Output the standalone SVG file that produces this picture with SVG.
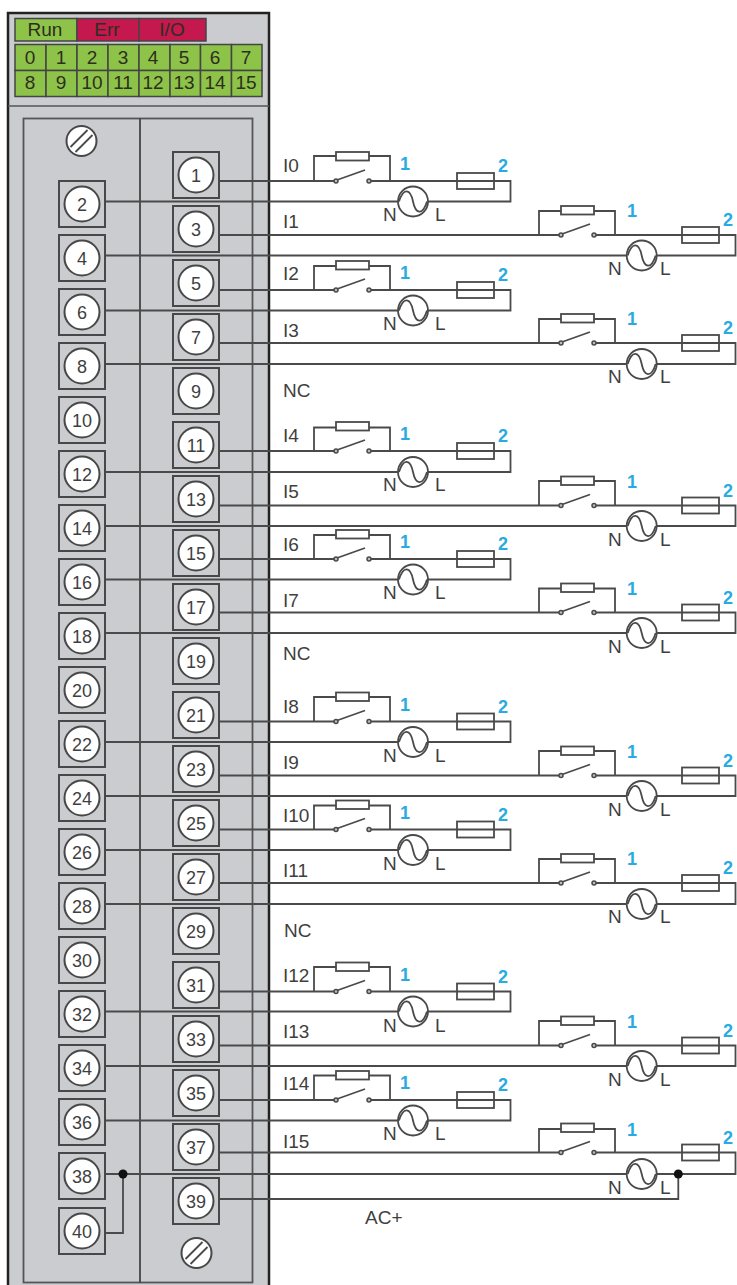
<svg xmlns="http://www.w3.org/2000/svg" xmlns:xlink="http://www.w3.org/1999/xlink" width="737" height="1285" viewBox="0 0 737 1285">
<style>
text{font-family:"Liberation Sans",Arial,sans-serif;fill:#3f3f3f;font-size:19px}
.m{text-anchor:middle;font-size:18px}
.b{fill:#29abe2;font-weight:bold;font-size:18px}
.nl{font-size:19px}
.led{font-size:19px;text-anchor:middle;fill:#2e2e1e}
.g{fill:#8dc348;stroke:#444;stroke-width:1.5}
.r{fill:#c4184f;stroke:#444;stroke-width:1.5}
.w{fill:none;stroke:#4a4a4a;stroke-width:1.8}
.sym{fill:none;stroke:#4a4a4a;stroke-width:1.8}
.wf{fill:#fff;stroke:#4a4a4a;stroke-width:1.8}
.ct{fill:#bbb;stroke:#4a4a4a;stroke-width:1.5}
.ts{fill:#cbccd0;stroke:#484848;stroke-width:2}
.tc{fill:#fff;stroke:#484848;stroke-width:2}
</style>
<defs>
<g id="term"><rect class="ts" x="-23" y="-23" width="46" height="46"/><circle class="tc" r="17.500"/></g>
<g id="ck">
<rect class="wf" x="336" y="-29" width="33" height="8.500"/>
<circle class="ct" cx="336" cy="0" r="2"/><circle class="ct" cx="369" cy="0" r="2"/>
<path class="sym" d="M337 -1L365 -11"/>
<rect class="sym" x="457" y="-8" width="37" height="16"/>
</g>
<g id="src">
<circle class="wf" r="15"/>
<path class="sym" d="M-14 0C-9.500 -14.500 -2.500 -12.500 0 0S9.500 14.500 14 0"/>
</g>
<g id="screw"><circle class="tc" r="15"/><path class="sym" d="M-11 6L6 -11M-6 11L11 -6"/></g>
</defs>
<g id="module">
<rect x="8" y="13" width="261" height="1280" fill="#cbccd0" stroke="#222" stroke-width="2.500"/>
<path d="M8 106H269" fill="none" stroke="#555" stroke-width="1.600"/>
<rect x="23.500" y="118.500" width="229" height="1164" fill="none" stroke="#555" stroke-width="1.800"/>
<path d="M140 118.500V1283" fill="none" stroke="#444" stroke-width="1.800"/>
</g>
<g id="leds">
<rect class="g" x="15" y="18.500" width="62" height="22.500"/><rect class="r" x="77" y="18.500" width="62" height="22.500"/><rect class="r" x="139" y="18.500" width="67" height="22.500"/>
<text class="led" x="45" y="36">Run</text><text class="led" x="107" y="36">Err</text><text class="led" x="172" y="36">I/O</text>
<rect class="g" x="15" y="44.500" width="31" height="26"/><rect class="g" x="46" y="44.500" width="31" height="26"/><rect class="g" x="77" y="44.500" width="31" height="26"/><rect class="g" x="108" y="44.500" width="31" height="26"/><rect class="g" x="139" y="44.500" width="31" height="26"/><rect class="g" x="170" y="44.500" width="30.500" height="26"/><rect class="g" x="200.500" y="44.500" width="31" height="26"/><rect class="g" x="231.500" y="44.500" width="30.500" height="26"/>
<rect class="g" x="15" y="70.500" width="31" height="26"/><rect class="g" x="46" y="70.500" width="31" height="26"/><rect class="g" x="77" y="70.500" width="31" height="26"/><rect class="g" x="108" y="70.500" width="31" height="26"/><rect class="g" x="139" y="70.500" width="31" height="26"/><rect class="g" x="170" y="70.500" width="30.500" height="26"/><rect class="g" x="200.500" y="70.500" width="31" height="26"/><rect class="g" x="231.500" y="70.500" width="30.500" height="26"/>
<text class="led" x="30" y="64">0</text><text class="led" x="61" y="64">1</text><text class="led" x="92" y="64">2</text><text class="led" x="123" y="64">3</text><text class="led" x="153" y="64">4</text><text class="led" x="184" y="64">5</text><text class="led" x="215" y="64">6</text><text class="led" x="246" y="64">7</text>
<text class="led" x="30" y="89">8</text><text class="led" x="61" y="89">9</text><text class="led" x="92" y="89">10</text><text class="led" x="123" y="89">11</text><text class="led" x="153" y="89">12</text><text class="led" x="184" y="89">13</text><text class="led" x="215" y="89">14</text><text class="led" x="246" y="89">15</text>
</g>
<g id="connectors">
<path class="w" d="M219 181H334M371 181H510.500V201.500H105M314 181V156H390V181"/>
<path class="w" d="M219 235H559M596 235H735.500V255.500H105M539 235V211H615V235"/>
<path class="w" d="M219 290H334M371 290H510.500V310.500H105M314 290V266H390V290"/>
<path class="w" d="M219 343H559M596 343H735.500V364H105M539 343V319H615V343"/>
<path class="w" d="M219 451H334M371 451H510.500V472H105M314 451V427.500H390V451"/>
<path class="w" d="M219 505.500H559M596 505.500H735.500V526H105M539 505.500V481H615V505.500"/>
<path class="w" d="M219 559H334M371 559H510.500V579.500H105M314 559V535H390V559"/>
<path class="w" d="M219 612.500H559M596 612.500H735.500V633H105M539 612.500V588.500H615V612.500"/>
<path class="w" d="M219 721.500H334M371 721.500H510.500V742H105M314 721.500V697H390V721.500"/>
<path class="w" d="M219 775.500H559M596 775.500H735.500V796H105M539 775.500V751H615V775.500"/>
<path class="w" d="M219 829.500H334M371 829.500H510.500V850H105M314 829.500V805.500H390V829.500"/>
<path class="w" d="M219 883H559M596 883H735.500V904H105M539 883V859H615V883"/>
<path class="w" d="M219 991.500H334M371 991.500H510.500V1011.500H105M314 991.500V967H390V991.500"/>
<path class="w" d="M219 1045.500H559M596 1045.500H735.500V1066H105M539 1045.500V1021H615V1045.500"/>
<path class="w" d="M219 1100H334M371 1100H510.500V1120.500H105M314 1100V1075.500H390V1100"/>
<path class="w" d="M219 1152.500H559M596 1152.500H735.500V1174H105M539 1152.500V1129H615V1152.500"/>
<path class="w" d="M219 1199H678.300V1174"/>
<path class="w" d="M105 1233H123V1174"/>
<circle cx="123" cy="1174" r="4.500" fill="#111"/>
<circle cx="678.300" cy="1174" r="4.500" fill="#111"/>
</g>
<g id="terminals">
<g id="t1" transform="translate(196 175)"><use href="#term"/><text class="m" y="6.500">1</text></g>
<g id="t3" transform="translate(196 229)"><use href="#term"/><text class="m" y="6.500">3</text></g>
<g id="t5" transform="translate(196 283)"><use href="#term"/><text class="m" y="6.500">5</text></g>
<g id="t7" transform="translate(196 337)"><use href="#term"/><text class="m" y="6.500">7</text></g>
<g id="t9" transform="translate(196 391)"><use href="#term"/><text class="m" y="6.500">9</text></g>
<g id="t11" transform="translate(196 445)"><use href="#term"/><text class="m" y="6.500">11</text></g>
<g id="t13" transform="translate(196 499)"><use href="#term"/><text class="m" y="6.500">13</text></g>
<g id="t15" transform="translate(196 553)"><use href="#term"/><text class="m" y="6.500">15</text></g>
<g id="t17" transform="translate(196 607)"><use href="#term"/><text class="m" y="6.500">17</text></g>
<g id="t19" transform="translate(196 661)"><use href="#term"/><text class="m" y="6.500">19</text></g>
<g id="t21" transform="translate(196 715)"><use href="#term"/><text class="m" y="6.500">21</text></g>
<g id="t23" transform="translate(196 769)"><use href="#term"/><text class="m" y="6.500">23</text></g>
<g id="t25" transform="translate(196 823)"><use href="#term"/><text class="m" y="6.500">25</text></g>
<g id="t27" transform="translate(196 877)"><use href="#term"/><text class="m" y="6.500">27</text></g>
<g id="t29" transform="translate(196 931)"><use href="#term"/><text class="m" y="6.500">29</text></g>
<g id="t31" transform="translate(196 985)"><use href="#term"/><text class="m" y="6.500">31</text></g>
<g id="t33" transform="translate(196 1039)"><use href="#term"/><text class="m" y="6.500">33</text></g>
<g id="t35" transform="translate(196 1093)"><use href="#term"/><text class="m" y="6.500">35</text></g>
<g id="t37" transform="translate(196 1147)"><use href="#term"/><text class="m" y="6.500">37</text></g>
<g id="t39" transform="translate(196 1201)"><use href="#term"/><text class="m" y="6.500">39</text></g>
<g id="t2" transform="translate(82 204)"><use href="#term"/><text class="m" y="6.500">2</text></g>
<g id="t4" transform="translate(82 258)"><use href="#term"/><text class="m" y="6.500">4</text></g>
<g id="t6" transform="translate(82 312)"><use href="#term"/><text class="m" y="6.500">6</text></g>
<g id="t8" transform="translate(82 366)"><use href="#term"/><text class="m" y="6.500">8</text></g>
<g id="t10" transform="translate(82 420)"><use href="#term"/><text class="m" y="6.500">10</text></g>
<g id="t12" transform="translate(82 474)"><use href="#term"/><text class="m" y="6.500">12</text></g>
<g id="t14" transform="translate(82 528)"><use href="#term"/><text class="m" y="6.500">14</text></g>
<g id="t16" transform="translate(82 582)"><use href="#term"/><text class="m" y="6.500">16</text></g>
<g id="t18" transform="translate(82 636)"><use href="#term"/><text class="m" y="6.500">18</text></g>
<g id="t20" transform="translate(82 690)"><use href="#term"/><text class="m" y="6.500">20</text></g>
<g id="t22" transform="translate(82 744)"><use href="#term"/><text class="m" y="6.500">22</text></g>
<g id="t24" transform="translate(82 798)"><use href="#term"/><text class="m" y="6.500">24</text></g>
<g id="t26" transform="translate(82 852)"><use href="#term"/><text class="m" y="6.500">26</text></g>
<g id="t28" transform="translate(82 906)"><use href="#term"/><text class="m" y="6.500">28</text></g>
<g id="t30" transform="translate(82 960)"><use href="#term"/><text class="m" y="6.500">30</text></g>
<g id="t32" transform="translate(82 1014)"><use href="#term"/><text class="m" y="6.500">32</text></g>
<g id="t34" transform="translate(82 1068)"><use href="#term"/><text class="m" y="6.500">34</text></g>
<g id="t36" transform="translate(82 1122)"><use href="#term"/><text class="m" y="6.500">36</text></g>
<g id="t38" transform="translate(82 1176)"><use href="#term"/><text class="m" y="6.500">38</text></g>
<g id="t40" transform="translate(82 1231)"><use href="#term"/><text class="m" y="6.500">40</text></g>
<use id="screw1" href="#screw" x="81.500" y="141"/>
<use id="screw2" href="#screw" x="196.500" y="1253"/>
</g>
<g id="c0" transform="translate(0 181)"><use href="#ck"/><use href="#src" x="413" y="20.500"/><text x="283" y="-9">I0</text><text class="b" x="400" y="-11">1</text><text class="b" x="498" y="-9">2</text><text class="nl" x="383" y="40">N</text><text class="nl" x="435" y="40">L</text></g>
<g id="c1" transform="translate(225 235)"><use href="#ck"/><use href="#src" x="416.700" y="20.500"/><text x="58" y="-7">I1</text><text class="b" x="402" y="-18">1</text><text class="b" x="498" y="-9">2</text><text class="nl" x="383" y="40">N</text><text class="nl" x="435" y="40">L</text></g>
<g id="c2" transform="translate(0 290)"><use href="#ck"/><use href="#src" x="413" y="20.500"/><text x="283" y="-10">I2</text><text class="b" x="400" y="-11">1</text><text class="b" x="498" y="-9">2</text><text class="nl" x="383" y="40">N</text><text class="nl" x="435" y="40">L</text></g>
<g id="c3" transform="translate(225 343)"><use href="#ck"/><use href="#src" x="416.700" y="21"/><text x="58" y="-6">I3</text><text class="b" x="402" y="-18">1</text><text class="b" x="498" y="-9">2</text><text class="nl" x="383" y="40">N</text><text class="nl" x="435" y="40">L</text></g>
<g id="c4" transform="translate(0 451)"><use href="#ck"/><use href="#src" x="413" y="21"/><text x="283" y="-9">I4</text><text class="b" x="400" y="-11">1</text><text class="b" x="498" y="-9">2</text><text class="nl" x="383" y="40">N</text><text class="nl" x="435" y="40">L</text></g>
<g id="c5" transform="translate(225 505.500)"><use href="#ck"/><use href="#src" x="416.700" y="20.500"/><text x="58" y="-8">I5</text><text class="b" x="402" y="-18">1</text><text class="b" x="498" y="-9">2</text><text class="nl" x="383" y="40">N</text><text class="nl" x="435" y="40">L</text></g>
<g id="c6" transform="translate(0 559)"><use href="#ck"/><use href="#src" x="413" y="20.500"/><text x="283" y="-8">I6</text><text class="b" x="400" y="-11">1</text><text class="b" x="498" y="-9">2</text><text class="nl" x="383" y="40">N</text><text class="nl" x="435" y="40">L</text></g>
<g id="c7" transform="translate(225 612.500)"><use href="#ck"/><use href="#src" x="416.700" y="20.500"/><text x="58" y="-6">I7</text><text class="b" x="402" y="-18">1</text><text class="b" x="498" y="-9">2</text><text class="nl" x="383" y="40">N</text><text class="nl" x="435" y="40">L</text></g>
<g id="c8" transform="translate(0 721.500)"><use href="#ck"/><use href="#src" x="413" y="20.500"/><text x="283" y="-9">I8</text><text class="b" x="400" y="-11">1</text><text class="b" x="498" y="-9">2</text><text class="nl" x="383" y="40">N</text><text class="nl" x="435" y="40">L</text></g>
<g id="c9" transform="translate(225 775.500)"><use href="#ck"/><use href="#src" x="416.700" y="20.500"/><text x="58" y="-7">I9</text><text class="b" x="402" y="-18">1</text><text class="b" x="498" y="-9">2</text><text class="nl" x="383" y="40">N</text><text class="nl" x="435" y="40">L</text></g>
<g id="c10" transform="translate(0 829.500)"><use href="#ck"/><use href="#src" x="413" y="20.500"/><text x="283" y="-8">I10</text><text class="b" x="400" y="-11">1</text><text class="b" x="498" y="-9">2</text><text class="nl" x="383" y="40">N</text><text class="nl" x="435" y="40">L</text></g>
<g id="c11" transform="translate(225 883)"><use href="#ck"/><use href="#src" x="416.700" y="21"/><text x="58" y="-6">I11</text><text class="b" x="402" y="-18">1</text><text class="b" x="498" y="-9">2</text><text class="nl" x="383" y="40">N</text><text class="nl" x="435" y="40">L</text></g>
<g id="c12" transform="translate(0 991.500)"><use href="#ck"/><use href="#src" x="413" y="20"/><text x="283" y="-10">I12</text><text class="b" x="400" y="-11">1</text><text class="b" x="498" y="-9">2</text><text class="nl" x="383" y="40">N</text><text class="nl" x="435" y="40">L</text></g>
<g id="c13" transform="translate(225 1045.500)"><use href="#ck"/><use href="#src" x="416.700" y="20.500"/><text x="58" y="-8">I13</text><text class="b" x="402" y="-18">1</text><text class="b" x="498" y="-9">2</text><text class="nl" x="383" y="40">N</text><text class="nl" x="435" y="40">L</text></g>
<g id="c14" transform="translate(0 1100)"><use href="#ck"/><use href="#src" x="413" y="20.500"/><text x="283" y="-10">I14</text><text class="b" x="400" y="-11">1</text><text class="b" x="498" y="-9">2</text><text class="nl" x="383" y="40">N</text><text class="nl" x="435" y="40">L</text></g>
<g id="c15" transform="translate(225 1152.500)"><use href="#ck"/><use href="#src" x="416.700" y="21.500"/><text x="58" y="-5">I15</text><text class="b" x="402" y="-17">1</text><text class="b" x="498" y="-9">2</text><text class="nl" x="383" y="41">N</text><text class="nl" x="435" y="41">L</text></g>
<text x="283" y="397">NC</text>
<text x="283" y="660">NC</text>
<text x="284" y="937">NC</text>
<text x="365" y="1224">AC+</text>
</svg>
